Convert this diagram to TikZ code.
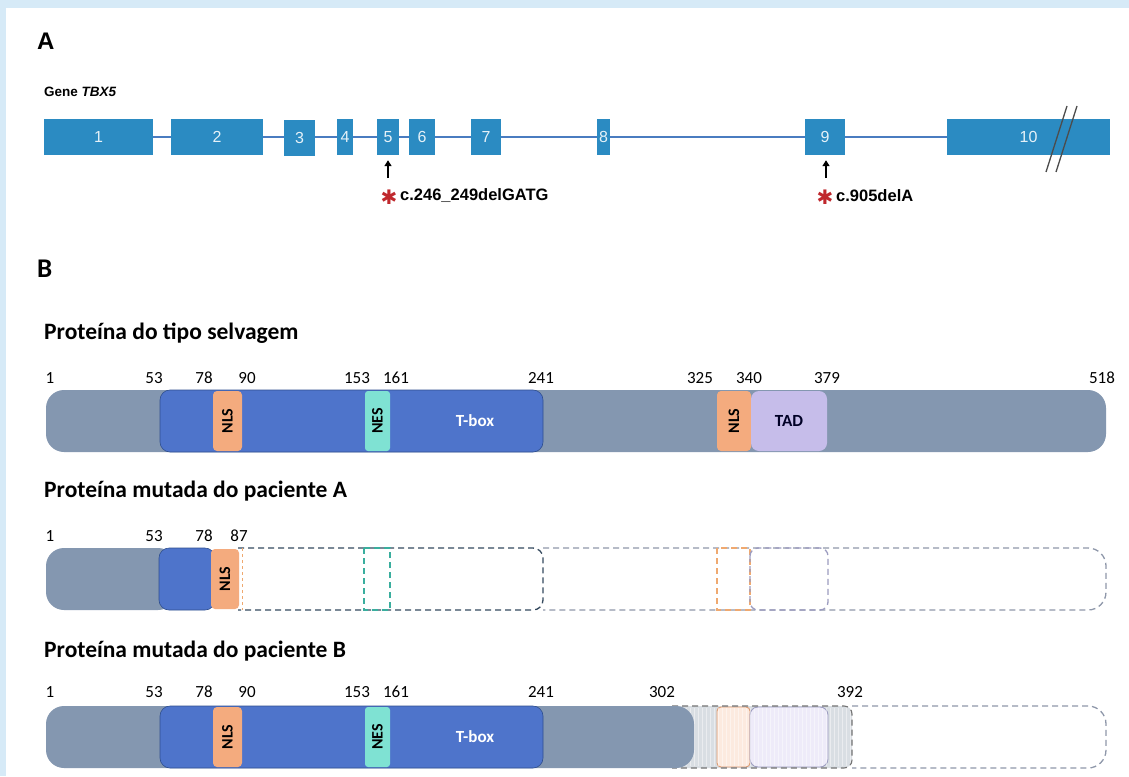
\documentclass[tikz,border=0pt]{standalone}
\usepackage{fontspec}
\setmainfont{Carlito}
\newfontfamily\arialf{Liberation Sans}
\newfontfamily\djvf{DejaVu Sans}
\usetikzlibrary{arrows.meta}
\definecolor{bgblue}{HTML}{D6EAF7}
\definecolor{exonc}{HTML}{2B8BC2}
\definecolor{intronc}{HTML}{4A7CC0}
\definecolor{protc}{HTML}{8497B0}
\definecolor{tboxc}{HTML}{4E74CB}
\definecolor{tboxdk}{HTML}{2F4F8F}
\definecolor{nlsc}{HTML}{F4AB7E}
\definecolor{nesc}{HTML}{7FE2D3}
\definecolor{tadc}{HTML}{C6BDEA}
\definecolor{mutred}{HTML}{C0282D}
\definecolor{dkdash}{HTML}{34495E}
\definecolor{grdash}{HTML}{8F98AA}
\definecolor{tealdash}{HTML}{3AAE9E}
\definecolor{ordash}{HTML}{EFA970}
\definecolor{laddash}{HTML}{9C9CC0}
\definecolor{fadec}{HTML}{D9DEE3}
\tikzset{
  exonbox/.style={fill=exonc, inner sep=0, text=white!88!exonc, font=\arialf\fontsize{16}{16}\selectfont, minimum height=36pt},
  intronline/.style={draw=intronc, line width=1.2pt},
  mutarrow/.style={draw=black, line width=1.6pt, -{Triangle[length=6pt,width=7pt]}},
  astnode/.style={text=mutred, font=\djvf\fontsize{20}{20}\selectfont, inner sep=0},
  mutlabel/.style={font=\arialf\bfseries\fontsize{16.5}{16.5}\selectfont, inner sep=0, anchor=west},
  protbar/.style={fill=protc, inner sep=0, minimum height=62pt, rounded corners=18pt},
  tboxnode/.style={fill=tboxc, draw=tboxdk, line width=0.6pt, inner sep=0, minimum height=62pt, rounded corners=10pt},
  nlsbox/.style={fill=nlsc, inner sep=0, minimum height=60pt, rounded corners=4pt, font=\bfseries\fontsize{16}{16}\selectfont},
  nesbox/.style={fill=nesc, inner sep=0, minimum height=60pt, rounded corners=3pt, font=\bfseries\fontsize{16}{16}\selectfont},
  tadbox/.style={fill=tadc, inner sep=0, minimum height=60pt, rounded corners=8pt, font=\bfseries\fontsize{17}{17}\selectfont, text=black!85!blue},
  numlbl/.style={font=\fontsize{17}{17}\selectfont, inner sep=0},
  titlelbl/.style={font=\bfseries\fontsize{23.5}{23.5}\selectfont, inner sep=0, anchor=west},
  dashbase/.style={line width=1.3pt, dash pattern=on 6pt off 4pt},
}
\begin{document}
\begin{tikzpicture}[x=1pt,y=-1pt]
\fill[bgblue] (0,0) rectangle (1129,776);
\fill[white] (6,8) rectangle (1129,776);
\useasboundingbox (0,0) rectangle (1129,776);

% ---------- Section A ----------
\node[anchor=west, inner sep=0, font=\arialf\bfseries\fontsize{24}{24}\selectfont] (lblA) at (37,41) {A};
\node[anchor=west, inner sep=0, font=\arialf\bfseries\fontsize{13.5}{13.5}\selectfont] (gene) at (44,92) {Gene \itshape TBX5};

\node[exonbox, minimum width=109pt] (e1) at (98.5,137) {1};
\node[exonbox, minimum width=92pt] (e2) at (217,137) {2};
\node[exonbox, minimum width=31pt] (e3) at (299.5,138) {3};
\node[exonbox, minimum width=16pt] (e4) at (345,137) {4};
\node[exonbox, minimum width=22pt] (e5) at (388,137) {5};
\node[exonbox, minimum width=26pt] (e6) at (422,137) {6};
\node[exonbox, minimum width=30pt] (e7) at (486,137) {7};
\node[exonbox, minimum width=13pt] (e8) at (603.5,137) {8};
\node[exonbox, minimum width=40pt] (e9) at (825,137) {9};
\node[exonbox, minimum width=163pt] (e10) at (1028.5,137) {10};

\draw[intronline] (e1.east) -- (e2.west);
\draw[intronline] (e2.east) -- (e3.west |- e2.east);
\draw[intronline] (e3.east |- e2.east) -- (e4.west);
\draw[intronline] (e4.east) -- (e5.west);
\draw[intronline] (e5.east) -- (e6.west);
\draw[intronline] (e6.east) -- (e7.west);
\draw[intronline] (e7.east) -- (e8.west);
\draw[intronline] (e8.east) -- (e9.west);
\draw[intronline] (e9.east) -- (e10.west);

% break marks
\coordinate (br1a) at (1046,172); \coordinate (br1b) at (1067,106);
\coordinate (br2a) at (1056,172); \coordinate (br2b) at (1077,106);
\draw[black!70, line width=1.3pt] (br1a) -- (br1b);
\draw[black!70, line width=1.3pt] (br2a) -- (br2b);

% mutations
\coordinate (m5) at (388,178);
\coordinate (m9) at (826,178);
\draw[mutarrow] (m5) -- ([yshift=-5pt]e5.south);
\draw[mutarrow] (m9) -- ([yshift=-5pt]e9.south -| m9);
\node[astnode] (s5) at (389,197) {✱};
\node[mutlabel] (l5) at (400,196) {c.246\_249delGATG};
\node[astnode] (s9) at (825,197) {✱};
\node[mutlabel] (l9) at (836,196) {c.905delA};

% ---------- Section B ----------
\node[anchor=west, inner sep=0, font=\bfseries\fontsize{27}{27}\selectfont] (lblB) at (37,269) {B};

% Wild type
\node[titlelbl] (t1) at (44,333) {Proteína do tipo selvagem};
\node[numlbl] at (50,378) {1};
\node[numlbl] at (154,378) {53};
\node[numlbl] at (204,378) {78};
\node[numlbl] at (247,378) {90};
\node[numlbl] at (357,378) {153};
\node[numlbl] at (396,378) {161};
\node[numlbl] at (541,378) {241};
\node[numlbl] at (700,378) {325};
\node[numlbl] at (749,378) {340};
\node[numlbl] at (827,378) {379};
\node[numlbl] at (1102,378) {518};

\node[protbar, minimum width=1060pt] (wt) at (576,421) {};
\node[tboxnode, minimum width=383pt] (wtT) at (351.5,421) {};
\node[text=white, font=\bfseries\fontsize{17}{17}\selectfont, inner sep=0] (wtTl) at (475,421) {T-box};
\node[nlsbox, minimum width=29pt] (wtN1) at (227.5,421) {\rotatebox{90}{NLS}};
\node[nesbox, minimum width=25pt] (wtE) at (377.5,421) {\rotatebox{90}{NES}};
\node[nlsbox, minimum width=34pt] (wtN2) at (734,421) {\rotatebox{90}{NLS}};
\node[tadbox, minimum width=76pt] (wtD) at (789,421) {TAD};

% Mutant A
\node[titlelbl] (t2) at (44,491) {Proteína mutada do paciente A};
\node[numlbl] at (50,536) {1};
\node[numlbl] at (154,536) {53};
\node[numlbl] at (204,536) {78};
\node[numlbl] at (239,536) {87};

\draw[dashbase, grdash, rounded corners=18pt] (543,548) -- (1106,548) -- (1106,610) -- (543,610);
\draw[dashbase, dkdash, rounded corners=10pt] (238,548) -- (543,548) -- (543,610) -- (238,610);
\draw[dashbase, tealdash, line width=1.1pt] (364,548) rectangle (390,610);
\draw[dashbase, ordash, line width=1.1pt] (717,548) rectangle (750,610);
\draw[dashbase, laddash, rounded corners=8pt] (750,548) rectangle (828,610);
\draw[ordash, line width=0.6pt, dash pattern=on 3pt off 3pt] (242,548) -- (242,610);

\node[protbar, minimum width=130pt] (maG) at (111,579) {};
\node[tboxnode, minimum width=56pt] (maT) at (187,579) {};
\node[nlsbox, minimum width=28pt] (maN) at (225,579) {\rotatebox{90}{NLS}};

% Mutant B
\node[titlelbl] (t3) at (44,651) {Proteína mutada do paciente B};
\node[numlbl] at (50,692) {1};
\node[numlbl] at (154,692) {53};
\node[numlbl] at (204,692) {78};
\node[numlbl] at (247,692) {90};
\node[numlbl] at (357,692) {153};
\node[numlbl] at (396,692) {161};
\node[numlbl] at (541,692) {241};
\node[numlbl] at (662,692) {302};
\node[numlbl] at (850,692) {392};

% faded region
\fill[fadec, rounded corners=8pt] (672,706) -- (852,706) -- (852,768) -- (672,768) -- cycle;
\fill[nlsc!25, draw=nlsc!90!black, line width=0.9pt, rounded corners=4pt] (717,707) rectangle (750,767);
\fill[tadc!30, draw=laddash, line width=0.9pt, rounded corners=8pt] (750,707) rectangle (828,767);
\foreach \xx in {674,678,...,850} \draw[white, line width=0.8pt, opacity=0.45] (\xx,708) -- (\xx,766);
\draw[dashbase, grdash, rounded corners=18pt] (852,706) -- (1106,706) -- (1106,768) -- (852,768);
\draw[dashbase, black!55, line width=1.1pt, rounded corners=8pt] (672,706) -- (852,706) -- (852,768) -- (672,768);

\node[protbar, minimum width=648pt] (mb) at (370,737) {};
\node[tboxnode, minimum width=383pt] (mbT) at (351.5,737) {};
\node[text=white, font=\bfseries\fontsize{17}{17}\selectfont, inner sep=0] (mbTl) at (475,737) {T-box};
\node[nlsbox, minimum width=29pt] (mbN1) at (227.5,737) {\rotatebox{90}{NLS}};
\node[nesbox, minimum width=25pt] (mbE) at (377.5,737) {\rotatebox{90}{NES}};
\end{tikzpicture}
\end{document}
